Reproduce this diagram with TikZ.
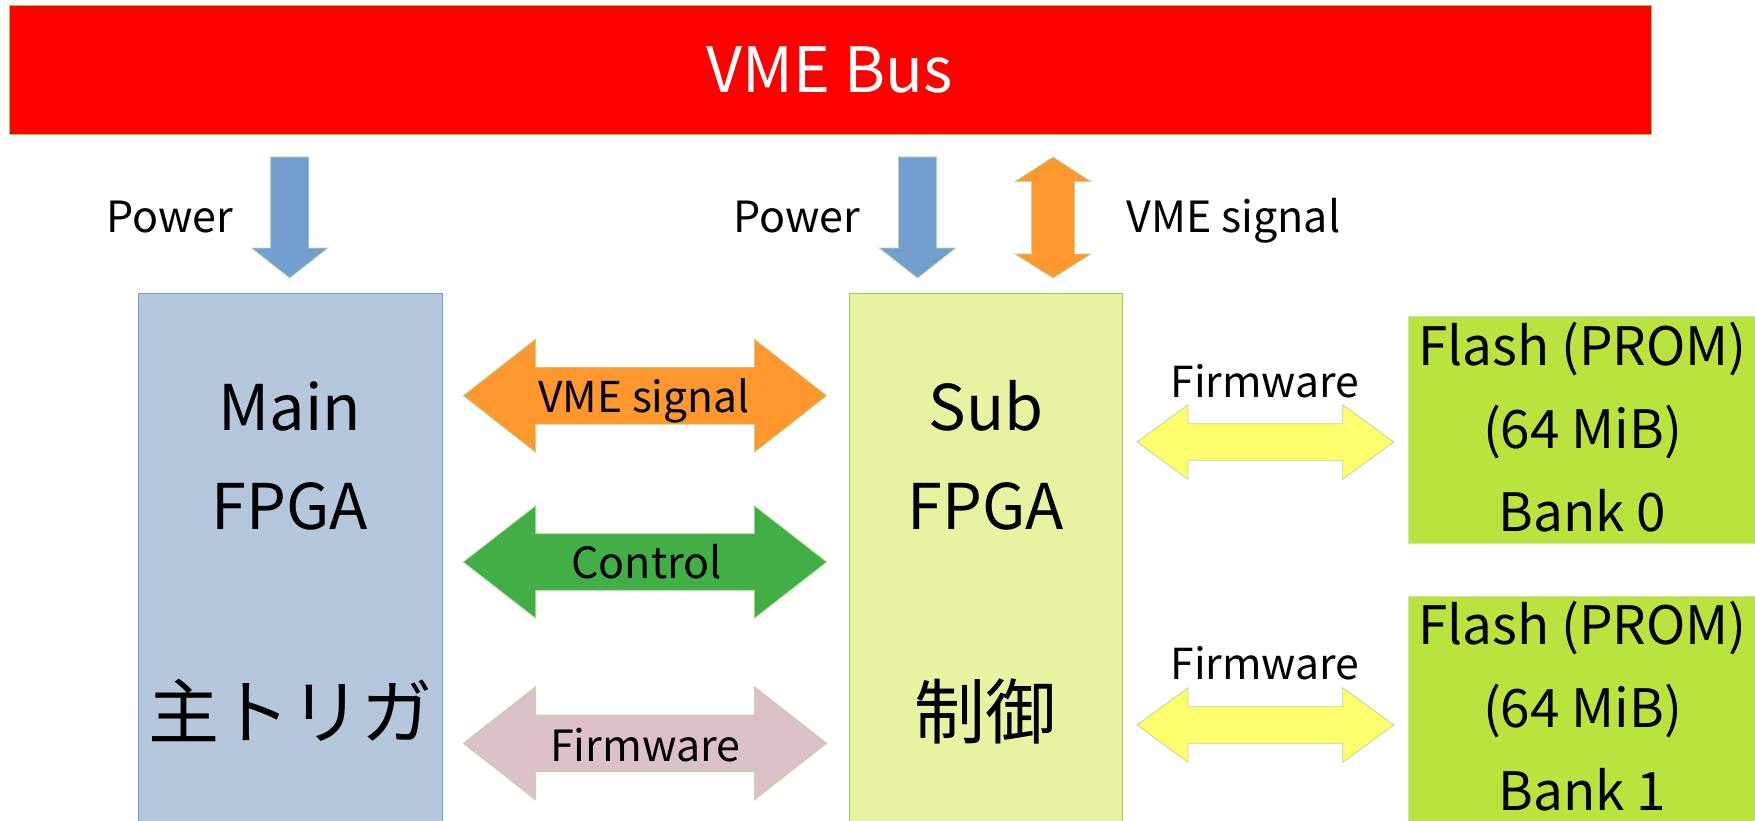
\documentclass[tikz,border=0pt]{standalone}
\usepackage{fontspec}
\setmainfont{Noto Sans CJK JP}
\newcommand\fs[1]{\fontsize{#1}{#1}\selectfont}
\definecolor{busred}{HTML}{FF0000}
\definecolor{edgegreen}{HTML}{92D050}
\definecolor{paleedge}{HTML}{B5D99C}
\definecolor{mainfill}{HTML}{B4C7DC}
\definecolor{mainedge}{HTML}{729FCF}
\definecolor{subfill}{HTML}{E8F2A1}
\definecolor{flashfill}{HTML}{BBE33D}
\definecolor{flashedge}{HTML}{C9E6A8}
\definecolor{powerblue}{HTML}{729FCF}
\definecolor{vmeorange}{HTML}{FF972F}
\definecolor{ctrlgreen}{HTML}{41AF46}
\definecolor{fwpink}{HTML}{DDC1C9}
\definecolor{fwyellow}{HTML}{FFFF6D}
% horizontal double block arrow: style, x1, x2, yc, head length, head half, shaft half
\newcommand\hdblarrow[7]{%
  \path[#1] (#2,#4) -- ({#2+#5},{#4-#6}) -- ({#2+#5},{#4-#7}) -- ({#3-#5},{#4-#7})
    -- ({#3-#5},{#4-#6}) -- (#3,#4) -- ({#3-#5},{#4+#6}) -- ({#3-#5},{#4+#7})
    -- ({#2+#5},{#4+#7}) -- ({#2+#5},{#4+#6}) -- cycle;}
% vertical down block arrow: style, xc, ytop, yheadbase, ytip, head half, shaft half
\newcommand\vdownarrow[7]{%
  \path[#1] ({#2-#7},#3) -- ({#2+#7},#3) -- ({#2+#7},#4) -- ({#2+#6},#4) -- (#2,#5)
    -- ({#2-#6},#4) -- ({#2-#7},#4) -- cycle;}
% vertical double block arrow: style, xc, ytop, yhead1, yhead2, ybottom, head half, shaft half
\newcommand\vdblarrow[8]{%
  \path[#1] (#2,#3) -- ({#2+#7},#4) -- ({#2+#8},#4) -- ({#2+#8},#5) -- ({#2+#7},#5)
    -- (#2,#6) -- ({#2-#7},#5) -- ({#2-#8},#5) -- ({#2-#8},#4) -- ({#2-#7},#4) -- cycle;}
\begin{document}
\begin{tikzpicture}[x=1pt,y=-1pt,
  box/.style={rectangle, inner sep=0pt, outer sep=0pt, anchor=north west, line width=1pt},
  txt/.style={inner sep=0pt, outer sep=0pt, anchor=base, text=black},
  blockarrow/.style={draw=paleedge, line width=0.8pt, line join=miter}]
\useasboundingbox (0,0) rectangle (1755,821);
\clip (0,0) rectangle (1755,821);
% boxes
\node[box, draw=edgegreen, fill=busred, minimum width=1642pt, minimum height=129pt] (bus) at (9,6) {};
\node[box, draw=mainedge, fill=mainfill, minimum width=304pt, minimum height=560pt] (main) at (138,293) {};
\node[box, draw=edgegreen, fill=subfill, minimum width=273pt, minimum height=560pt] (sub) at (849,293) {};
\node[box, draw=flashedge, fill=flashfill, minimum width=360pt, minimum height=227pt] (flash0) at (1408,316) {};
\node[box, draw=flashedge, fill=flashfill, minimum width=360pt, minimum height=260pt] (flash1) at (1408,596) {};
% texts in boxes
\node[txt, text=white, font=\fs{62.5}] (bustxt) at (829.5,92.7) {VME Bus};
\node[txt, font=\fs{63}] (mainA) at (290,430.7) {Main};
\node[txt, font=\fs{63}] (mainB) at (290,529.3) {FPGA};
\node[txt, font=\fs{71}] (mainC) at (290,738) {主トリガ};
\node[txt, font=\fs{63}] (subA) at (985.8,430.7) {Sub};
\node[txt, font=\fs{63}] (subB) at (985.8,529.3) {FPGA};
\node[txt, font=\fs{71}] (subC) at (985.8,738) {制御};
\node[txt, font=\fs{53}] (fa1) at (1582.5,365) {Flash (PROM)};
\node[txt, font=\fs{53}] (fa2) at (1582.5,448.6) {(64 MiB)};
\node[txt, font=\fs{53}] (fa3) at (1582.5,531.4) {Bank 0};
\node[txt, font=\fs{53}] (fb1) at (1582.5,644.2) {Flash (PROM)};
\node[txt, font=\fs{53}] (fb2) at (1582.5,727.3) {(64 MiB)};
\node[txt, font=\fs{53}] (fb3) at (1582.5,810.3) {Bank 1};
% top arrows
\vdownarrow{blockarrow, fill=powerblue}{289.7}{157}{248}{278}{38.1}{19.1}
\vdownarrow{blockarrow, fill=powerblue}{917.5}{157}{248}{278}{38.1}{19.1}
\vdblarrow{blockarrow, fill=vmeorange}{1053}{157}{181.7}{254}{278}{38}{21.6}
\node[txt, font=\fs{43}] (pw1) at (170,232) {Power};
\node[txt, font=\fs{43}] (pw2) at (797,232) {Power};
\node[txt, font=\fs{43}] (vmesig) at (1233.5,232) {VME signal};
% middle arrows
\hdblarrow{blockarrow, fill=vmeorange}{463.3}{826.7}{395.7}{72.4}{56.7}{28.5}
\hdblarrow{blockarrow, fill=ctrlgreen}{463.3}{826.7}{562}{72.4}{56.3}{28.3}
\hdblarrow{blockarrow, fill=fwpink}{463.3}{826.7}{743.3}{72.4}{56.7}{28.3}
\node[txt, font=\fs{42.5}] (lvme) at (644,412.7) {VME signal};
\node[txt, font=\fs{43}] (lctrl) at (646.7,578.3) {Control};
\node[txt, font=\fs{43}] (lfw) at (645.3,761.7) {Firmware};
% flash arrows
\hdblarrow{blockarrow, fill=fwyellow}{1137}{1393.8}{442}{51}{37.2}{18.3}
\hdblarrow{blockarrow, fill=fwyellow}{1137}{1393.8}{725}{51}{37.2}{18.3}
\node[txt, font=\fs{42.7}] (yfw1) at (1265,397.5) {Firmware};
\node[txt, font=\fs{42.7}] (yfw2) at (1265,679) {Firmware};
\end{tikzpicture}
\end{document}
